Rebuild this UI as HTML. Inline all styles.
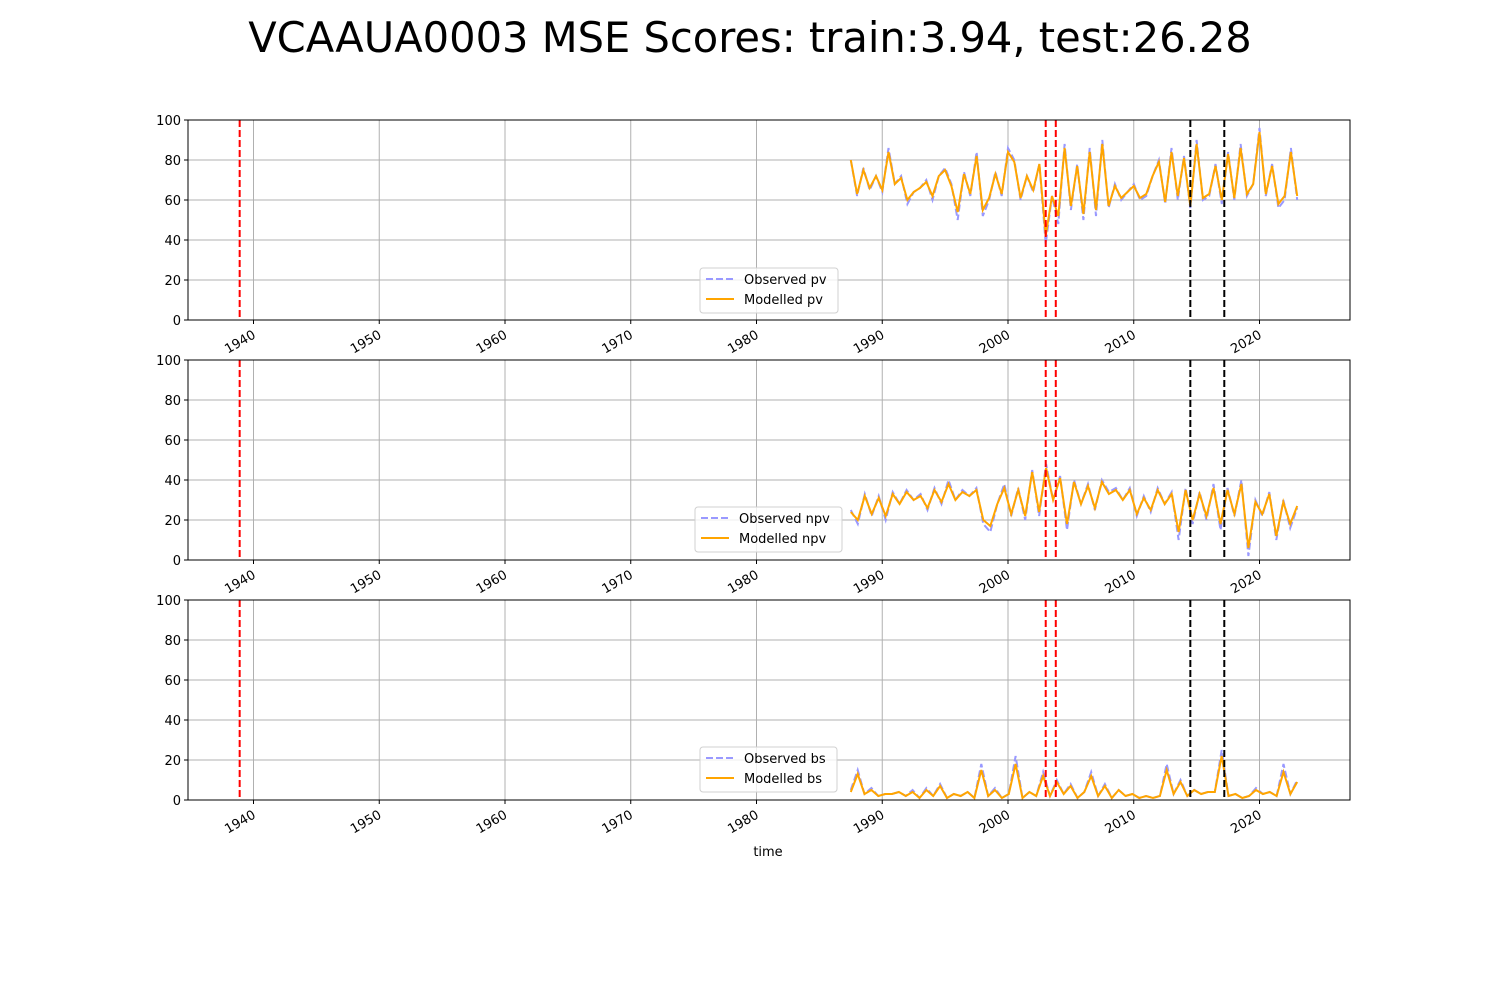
<!DOCTYPE html>
<html><head><meta charset="utf-8"><style>
body{margin:0;background:#fff;font-family:"Liberation Sans","DejaVu Sans",sans-serif}
svg text{font-family:"DejaVu Sans","Liberation Sans",sans-serif}
</style></head><body>
<svg id="chart" width="1500" height="1000" xmlns="http://www.w3.org/2000/svg">
<text x="750" y="52" font-size="41.6" text-anchor="middle">VCAAUA0003 MSE Scores: train:3.94, test:26.28</text>
<text x="768" y="856" font-size="13" text-anchor="middle">time</text>
</svg>
<script>
const yearTicks=[1940,1950,1960,1970,1980,1990,2000,2010,2020];
const yTicks=[0,20,40,60,80,100];
const redLines=[1938.9,2003.0,2003.8];
const blackLines=[2014.5,2017.2];
const seriesStart=1987.5, seriesEnd=2023.0;
const pvObs=[80,62,76,65,72,64,86,68,72,58,64,66,70,60,72,76,68,50,74,62,84,52,60,74,62,86,80,60,72,64,78,38,62,48,88,55,78,50,86,52,90,56,68,60,64,68,60,62,72,80,58,86,60,82,56,90,60,62,78,58,84,60,88,62,68,96,62,78,56,60,86,60];
const pvMod=[80,63,75,66,72,65,84,68,71,60,64,66,69,62,72,75,67,54,73,63,82,55,61,73,63,84,79,61,72,65,78,42,62,52,86,57,77,53,84,55,88,57,67,61,64,67,61,63,72,79,59,84,62,81,57,88,61,63,77,60,83,61,86,63,68,94,63,77,58,62,84,62];
const npvObs=[25,18,33,22,32,20,34,28,35,30,33,25,36,28,40,30,35,32,36,18,14,28,38,22,36,20,45,22,48,30,42,15,40,28,38,25,40,34,36,30,36,22,32,24,36,28,34,10,36,18,34,20,38,15,36,22,40,2,30,22,34,10,30,16,26];
const npvMod=[24,20,32,23,31,22,33,28,34,30,32,26,35,29,38,30,34,32,35,20,17,28,36,23,35,22,44,24,46,30,41,18,39,28,37,26,39,33,35,30,35,23,31,25,35,28,33,14,35,20,33,22,36,18,35,23,38,6,29,23,33,12,29,18,27];
const bsObs=[5,15,3,6,2,3,3,4,2,5,1,6,2,8,1,3,2,4,1,18,2,6,1,3,22,1,4,2,14,2,10,3,8,1,4,14,2,8,1,5,2,3,1,2,1,2,18,3,10,2,5,3,4,4,25,2,3,1,2,6,3,4,2,18,3,10];
const bsMod=[4,13,3,5,2,3,3,4,2,4,1,5,2,7,1,3,2,4,1,15,2,5,1,3,18,1,4,2,12,2,9,3,7,1,4,12,2,7,1,5,2,3,1,2,1,2,15,3,9,2,5,3,4,4,22,2,3,1,2,5,3,4,2,14,3,9];
const panels=[{name:'pv',obs:pvObs,mod:pvMod,top:120,leg:[700,268,138]},{name:'npv',obs:npvObs,mod:npvMod,top:360,leg:[695,507,147]},{name:'bs',obs:bsObs,mod:bsMod,top:600,leg:[700,747,137]}];
const L=188,R=1350,H=200;
const xs=y=>253.5+(y-1940)*12.575;
const NS='http://www.w3.org/2000/svg';
const svg=document.getElementById('chart');
function mk(tag,attrs,parent){const e=document.createElementNS(NS,tag);for(const k in attrs)e.setAttribute(k,attrs[k]);(parent||svg).appendChild(e);return e;}
panels.forEach(p=>{
 const g=mk('g',{});
 
 
 const ys=v=>p.top+H-v/100*H;
 yearTicks.forEach(t=>{const x=xs(t);
  const ln=mk('line',{x1:x,x2:x,y1:p.top,y2:p.top+H,stroke:'#b0b0b0','stroke-width':1},g);
  
  mk('line',{x1:x,x2:x,y1:p.top+H,y2:p.top+H+4,stroke:'#000'},g);
  const tx=mk('text',{x:x,y:p.top+H+18,'font-size':13,'text-anchor':'end',transform:`rotate(-30 ${x} ${p.top+H+12})`},g);
  tx.textContent=t;});
 yTicks.forEach(t=>{const y=ys(t);
  const ln=mk('line',{x1:L,x2:R,y1:y,y2:y,stroke:'#b0b0b0'},g);
  
  mk('line',{x1:L-4,x2:L,y1:y,y2:y,stroke:'#000'},g);
  const tx=mk('text',{x:L-7,y:y+5,'font-size':13,'text-anchor':'end'},g);
  tx.textContent=t;});
 const line=(arr,attrs,nm)=>{const n=arr.length;const pts=arr.map((v,i)=>xs(seriesStart+i*(seriesEnd-seriesStart)/(n-1)).toFixed(1)+','+ys(v).toFixed(1)).join(' ');
  const pl=mk('polyline',Object.assign({points:pts,fill:'none'},attrs),g);};
 line(p.obs,{stroke:'#9999ff','stroke-width':2,'stroke-dasharray':'7,3'},'observed-'+p.name+'-line');
 line(p.mod,{stroke:'#ffa500','stroke-width':2},'modelled-'+p.name+'-line');
 redLines.forEach(v=>{const l=mk('line',{x1:xs(v),x2:xs(v),y1:p.top,y2:p.top+H,stroke:'#ff0000','stroke-width':2,'stroke-dasharray':'7,3'},g);});
 blackLines.forEach(v=>{const l=mk('line',{x1:xs(v),x2:xs(v),y1:p.top,y2:p.top+H,stroke:'#000','stroke-width':2,'stroke-dasharray':'7,3'},g);});
 const fr=mk('rect',{x:L,y:p.top,width:R-L,height:H,fill:'none',stroke:'#000'},g);
 
 const [lx,ly,lw]=p.leg;
 const lg=mk('g',{},g);
 mk('rect',{x:lx,y:ly,width:lw,height:45,rx:3,fill:'#fff','fill-opacity':0.8,stroke:'#d0d0d0'},lg);
 mk('line',{x1:lx+6,x2:lx+34,y1:ly+11,y2:ly+11,stroke:'#9999ff','stroke-width':2,'stroke-dasharray':'7,3'},lg);
 mk('line',{x1:lx+6,x2:lx+34,y1:ly+31,y2:ly+31,stroke:'#ffa500','stroke-width':2},lg);
 const t1=mk('text',{x:lx+44,y:ly+16,'font-size':13},lg);t1.textContent='Observed '+p.name;
 
 const t2=mk('text',{x:lx+44,y:ly+36,'font-size':13},lg);t2.textContent='Modelled '+p.name;
 
});
</script>
</body></html>
